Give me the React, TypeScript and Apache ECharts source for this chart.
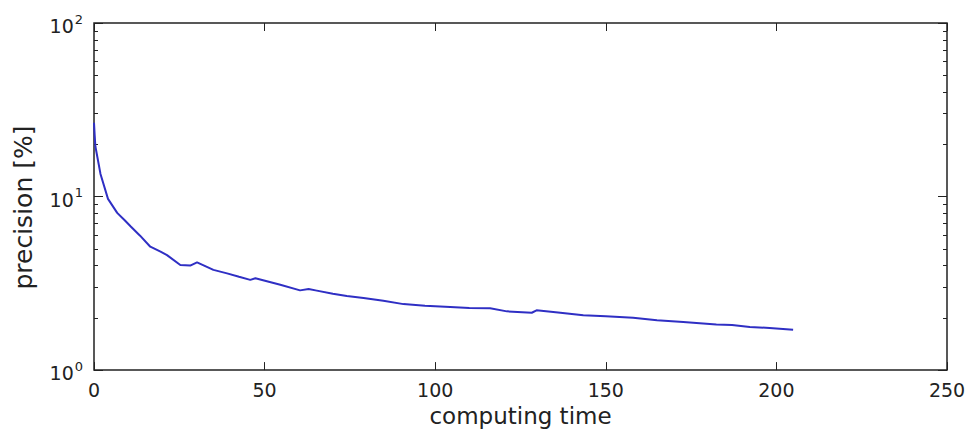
import React, { useEffect, useRef } from "react";
import * as echarts from "echarts";

const timeValues = [0, 0.2, 0.4, 1.9, 4.1, 6.8, 9, 10.7, 13.5, 16.5, 19.5, 21.4, 25.3, 28.2, 30.2, 35, 39, 42.5, 45.8, 47.3, 54.6, 60.4, 62.9, 65.3, 70, 74.1, 79, 84.8, 90.7, 97, 104.4, 110, 116.1, 121, 128.3, 129.7, 136, 143.4, 150, 158, 165, 172.7, 182.4, 187, 192.2, 198, 204.9];
const precisionValues = [26.6, 22.5, 19.5, 13.5, 9.7, 8.05, 7.3, 6.75, 5.95, 5.14, 4.81, 4.6, 4.03, 4.0, 4.18, 3.78, 3.61, 3.45, 3.31, 3.38, 3.1, 2.88, 2.93, 2.87, 2.75, 2.67, 2.6, 2.51, 2.4, 2.35, 2.31, 2.28, 2.27, 2.18, 2.14, 2.21, 2.15, 2.07, 2.04, 2.0, 1.94, 1.89, 1.83, 1.82, 1.77, 1.75, 1.71];
const xTicks = [0, 50, 100, 150, 200, 250];
const yMajorTicks = [1, 10, 100];
const yMinorTicks = [2, 3, 4, 5, 6, 7, 8, 9, 20, 30, 40, 50, 60, 70, 80, 90];

const TEXT = "#222";
const FONT = "DejaVu Sans";

export default function App() {
  const ref = useRef<HTMLDivElement>(null);
  useEffect(() => {
    const chart = echarts.init(ref.current!, null, { renderer: "svg" });
    const data = timeValues.map((t, i) => [t, precisionValues[i]]);
    const yBase = (pos: string, ticks: number[], len: number, labels: boolean) => ({
      type: "log",
      logBase: 10,
      min: 1,
      max: 100,
      position: pos,
      axisLine: { show: false },
      splitLine: { show: false },
      axisTick: { show: true, inside: true, length: len, customValues: ticks, lineStyle: { color: "#222", width: 1 } },
      axisLabel: labels
        ? {
            show: true,
            margin: 11,
            customValues: yMajorTicks,
            formatter: (v: number) => `{b|10}{s|${Math.round(Math.log10(v))}}`,
            rich: {
              b: { fontSize: 19, fontFamily: FONT, color: TEXT, padding: [6, 0, 0, 0] },
              s: { fontSize: 13, fontFamily: FONT, color: TEXT, padding: [0, 0, 8, 1] },
            },
          }
        : { show: false },
    });
    chart.setOption({
      animation: false,
      backgroundColor: "#fff",
      grid: { left: 94, right: 22, top: 23, bottom: 59, show: true, borderColor: "#222", borderWidth: 1.5, backgroundColor: "transparent" },
      xAxis: [
        {
          type: "value",
          min: 0,
          max: 250,
          interval: 50,
          position: "bottom",
          name: "computing time",
          nameLocation: "middle",
          nameGap: 33,
          nameTextStyle: { fontSize: 23, fontFamily: FONT, color: TEXT },
          axisLine: { show: false },
          splitLine: { show: false },
          axisTick: { show: true, inside: true, length: 8, customValues: xTicks, lineStyle: { color: "#222" } },
          axisLabel: { show: true, margin: 10, fontSize: 19, fontFamily: FONT, color: TEXT, customValues: xTicks },
        },
        {
          type: "value",
          min: 0,
          max: 250,
          interval: 50,
          position: "top",
          axisLine: { show: false },
          splitLine: { show: false },
          axisTick: { show: true, inside: true, length: 8, customValues: xTicks, lineStyle: { color: "#222" } },
          axisLabel: { show: false },
        },
      ],
      yAxis: [
        {
          ...yBase("left", yMajorTicks, 9, true),
          name: "precision [%]",
          nameLocation: "middle",
          nameGap: 58,
          nameRotate: 90,
          nameTextStyle: { fontSize: 25, fontFamily: FONT, color: TEXT, padding: [0, 22, 0, 0] },
        },
        yBase("left", yMinorTicks, 4, false),
        yBase("right", yMajorTicks, 9, false),
        yBase("right", yMinorTicks, 4, false),
      ],
      series: [
        {
          type: "line",
          data,
          xAxisIndex: 0,
          yAxisIndex: 0,
          showSymbol: false,
          symbol: "none",
          lineStyle: { color: "#2f2fc4", width: 2 },
        },
      ],
    });
    return () => chart.dispose();
  }, []);
  return <div ref={ref} style={{ position: "fixed", left: 0, top: 0, width: 969, height: 432 }} />;
}
